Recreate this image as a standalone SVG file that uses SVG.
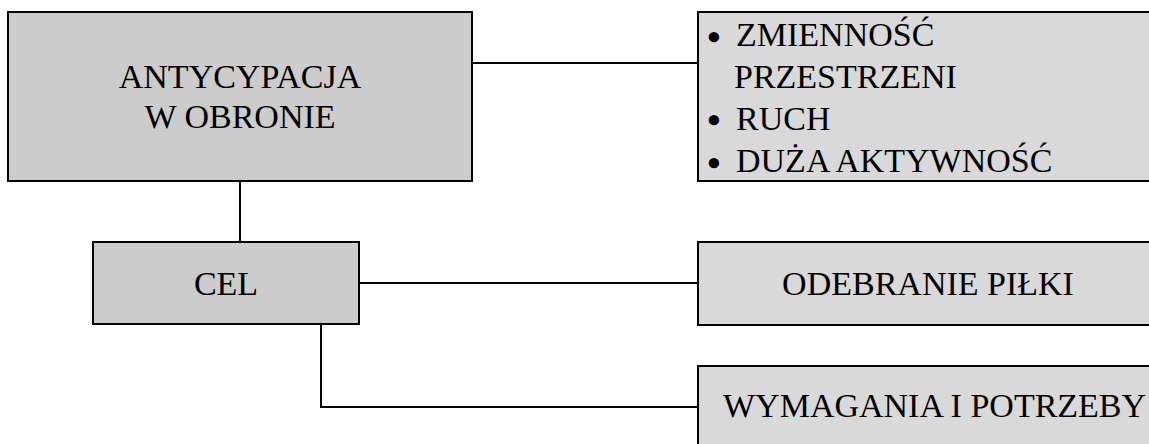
<svg xmlns="http://www.w3.org/2000/svg" width="1149" height="444" viewBox="0 0 1149 444">
<style>
.box{stroke:#000;stroke-width:2}
.dark{fill:#cccccc}
.light{fill:#d9d9d9}
.t{font-family:"Liberation Serif","Times New Roman",serif;font-size:34px;fill:#000}
.b{font-family:"Liberation Serif","Times New Roman",serif;font-size:38px;fill:#000;text-anchor:middle;font-weight:bold}
.c{text-anchor:middle}
.conn line,.conn polyline{stroke:#000;stroke-width:2;fill:none}
</style>
<rect width="1149" height="444" fill="#fff"/>
<g class="conn" id="connectors">
<line x1="472" y1="63" x2="698" y2="63"/>
<line x1="240" y1="181" x2="240" y2="242"/>
<line x1="359" y1="283" x2="698" y2="283"/>
<polyline points="321,324 321,407 698,407"/>
</g>
<g id="antycypacja">
<rect class="box dark" x="8" y="12" width="464" height="169"/>
<text class="t c" x="240" y="88">ANTYCYPACJA</text>
<text class="t c" x="240" y="128">W OBRONIE</text>
</g>
<g id="cechy">
<rect class="box light" x="698" y="12" width="470" height="169"/>
<text class="b" x="714" y="50">•</text>
<text class="t" x="736" y="46">ZMIENNOŚĆ</text>
<text class="t" x="734" y="88">PRZESTRZENI</text>
<text class="b" x="714" y="133">•</text>
<text class="t" x="736" y="130">RUCH</text>
<text class="b" x="714" y="176">•</text>
<text class="t" x="736" y="172">DUŻA AKTYWNOŚĆ</text>
</g>
<g id="cel">
<rect class="box dark" x="93" y="242" width="266" height="82"/>
<text class="t c" x="226" y="295">CEL</text>
</g>
<g id="odebranie">
<rect class="box light" x="698" y="242" width="470" height="83"/>
<text class="t c" x="928" y="295">ODEBRANIE PIŁKI</text>
</g>
<g id="wymagania">
<rect class="box light" x="698" y="366" width="470" height="100"/>
<text class="t" x="723" y="417">WYMAGANIA I POTRZEBY</text>
</g>
</svg>
